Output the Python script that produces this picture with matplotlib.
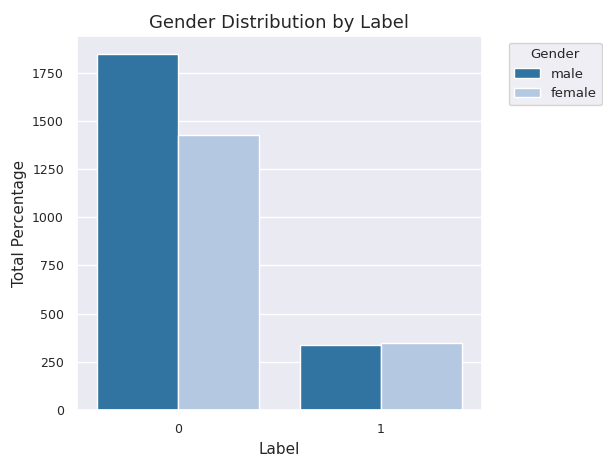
import matplotlib
matplotlib.use("Agg")
import matplotlib.pyplot as plt
import pandas as pd
import seaborn as sns

labels = ["0", "0", "1", "1"]
genders = ["male", "female", "male", "female"]
totals = [1848, 1428, 337, 349]

df = pd.DataFrame({"Label": labels, "Gender": genders, "Total": totals})

sns.set_theme(style="darkgrid")

fig = plt.figure(figsize=(6.03, 4.57), dpi=100)
ax = fig.add_axes([0.128, 0.103, 0.671, 0.818])

sns.barplot(data=df, x="Label", y="Total", hue="Gender",
            palette=["#1f77b4", "#aec7e8"], ax=ax)

ax.set_title("Gender Distribution by Label", fontsize=13)
ax.set_xlabel("Label", fontsize=11)
ax.set_ylabel("Total Percentage", fontsize=11)
ax.tick_params(labelsize=9)
ax.legend(title="Gender", bbox_to_anchor=(1.05, 1), loc="upper left",
          fontsize=9.5, title_fontsize=9.5)

plt.savefig("out.png", dpi=100)
plt.close()
